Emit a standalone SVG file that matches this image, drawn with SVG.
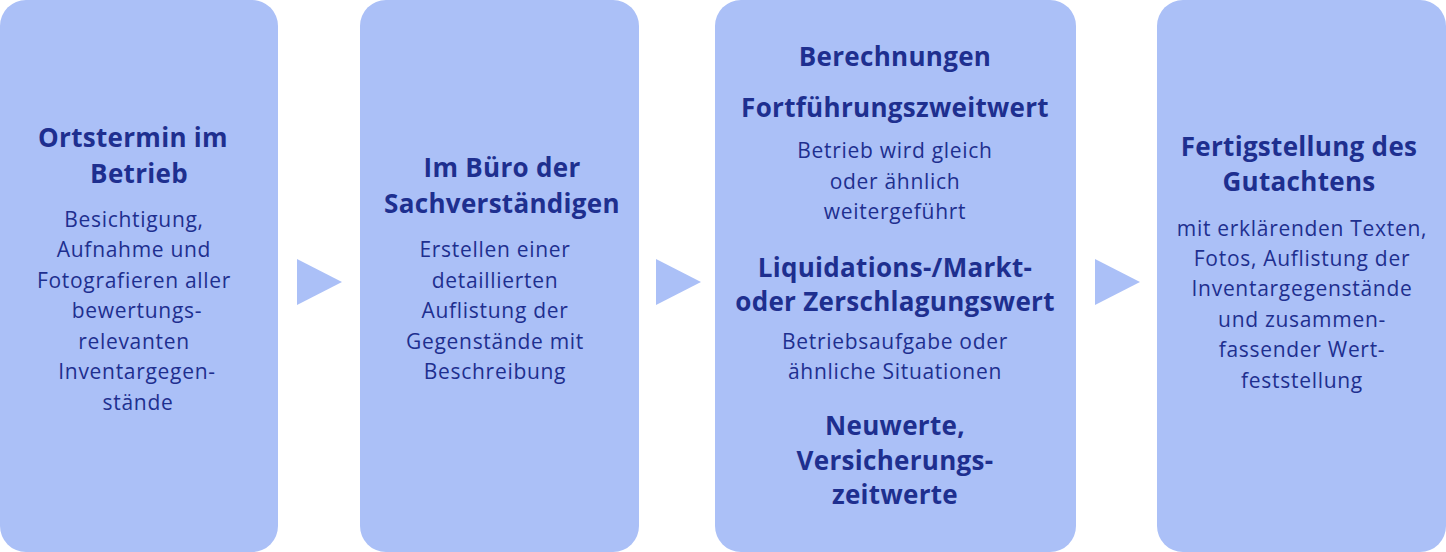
<svg xmlns="http://www.w3.org/2000/svg" width="1446" height="552" viewBox="0 0 1446 552">
<style>
.box{fill:#abc0f7}
.arr{fill:#abc0f7}
text{font-family:"Open Sans",Lato,sans-serif;fill:#1e2f8f;text-anchor:middle}
.t{font-weight:bold;font-size:26px;letter-spacing:0.3px}
.b{font-size:21px;letter-spacing:0.7px}
</style>
<rect width="1446" height="552" fill="#ffffff"/>
<g id="connectors">
<polygon class="arr" points="297,259 342,282 297,305"/>
<polygon class="arr" points="656,259 701,282 656,305"/>
<polygon class="arr" points="1095,259 1140,282 1095,305"/>
</g>
<g id="n1">
<rect class="box" x="0" y="0" width="278" height="552" rx="26"/>
<text class="t" x="133" y="147">Ortstermin im</text>
<text class="t" x="139" y="183">Betrieb</text>
<text class="b" x="134" y="227">Besichtigung,</text>
<text class="b" x="134" y="257">Aufnahme und</text>
<text class="b" x="134" y="288">Fotografieren aller</text>
<text class="b" x="137" y="318">bewertungs-</text>
<text class="b" x="134" y="349">relevanten</text>
<text class="b" x="137" y="379">Inventargegen-</text>
<text class="b" x="138" y="410">stände</text>
</g>
<g id="n2">
<rect class="box" x="360" y="0" width="279" height="552" rx="26"/>
<text class="t" x="502" y="177">Im Büro der</text>
<text class="t" x="502" y="213">Sachverständigen</text>
<text class="b" x="495" y="257">Erstellen einer</text>
<text class="b" x="495" y="288">detaillierten</text>
<text class="b" x="495" y="318">Auflistung der</text>
<text class="b" x="495" y="349">Gegenstände mit</text>
<text class="b" x="495" y="379">Beschreibung</text>
</g>
<g id="n3">
<rect class="box" x="715" y="0" width="361" height="552" rx="26"/>
<text class="t" x="895" y="66">Berechnungen</text>
<text class="t" x="895" y="117">Fortführungszweitwert</text>
<text class="b" x="895" y="158">Betrieb wird gleich</text>
<text class="b" x="895" y="189">oder ähnlich</text>
<text class="b" x="895" y="219">weitergeführt</text>
<text class="t" x="895" y="277">Liquidations-/Markt-</text>
<text class="t" x="895" y="311">oder Zerschlagungswert</text>
<text class="b" x="895" y="349">Betriebsaufgabe oder</text>
<text class="b" x="895" y="379">ähnliche Situationen</text>
<text class="t" x="895" y="435">Neuwerte,</text>
<text class="t" x="895" y="470">Versicherungs-</text>
<text class="t" x="895" y="504">zeitwerte</text>
</g>
<g id="n4">
<rect class="box" x="1157" y="0" width="289" height="552" rx="26"/>
<text class="t" x="1299" y="156">Fertigstellung des</text>
<text class="t" x="1299" y="191">Gutachtens</text>
<text class="b" x="1302" y="236">mit erklärenden Texten,</text>
<text class="b" x="1302" y="266">Fotos, Auflistung der</text>
<text class="b" x="1302" y="296">Inventargegenstände</text>
<text class="b" x="1302" y="327">und zusammen-</text>
<text class="b" x="1302" y="357">fassender Wert-</text>
<text class="b" x="1302" y="388">feststellung</text>
</g>
</svg>
